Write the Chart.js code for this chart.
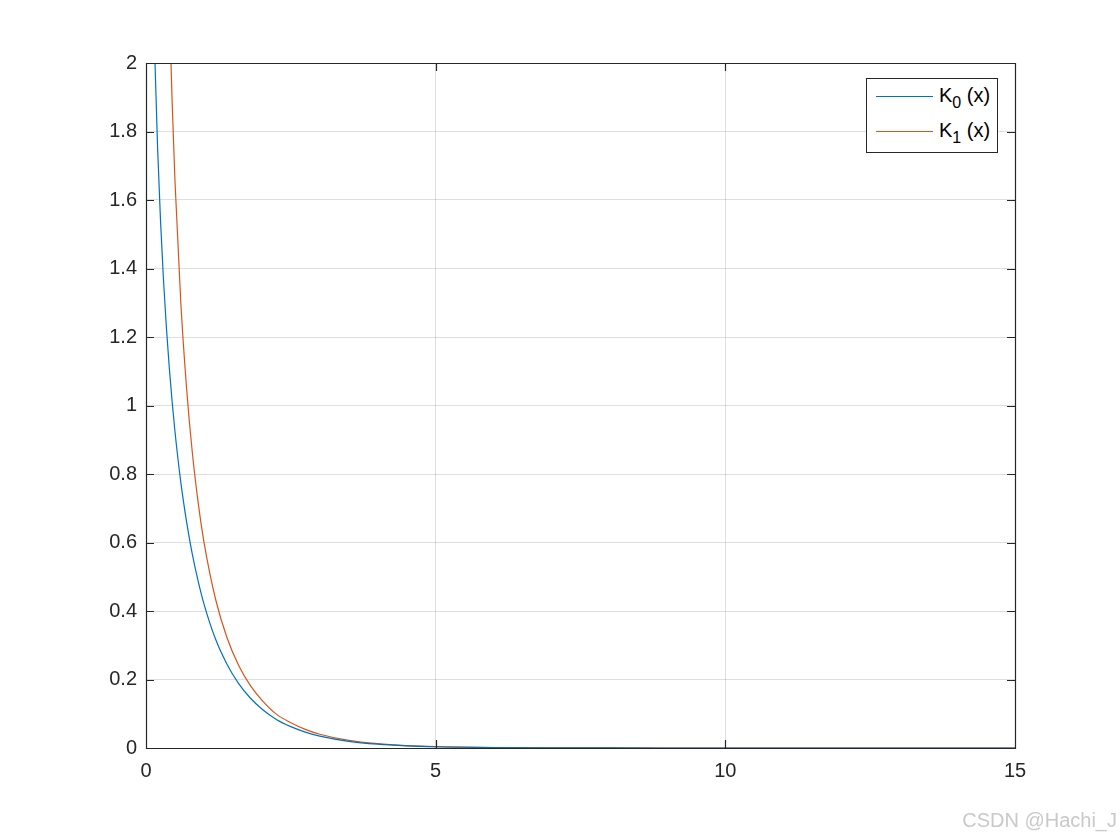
<!DOCTYPE html>
<html>
<head>
<meta charset="utf-8">
<script src="https://cdn.jsdelivr.net/npm/chart.js@4.4.1/dist/chart.umd.min.js"></script>
<style>
  body { margin: 0; background: #fff; }
  #wrap { position: relative; width: 1120px; height: 840px; }
  #legend {
    position: absolute; left: 866px; top: 78px; width: 132px; height: 75px;
    border: 1px solid #262626; background: #fff; box-sizing: border-box;
    font-family: "Liberation Sans", Arial, sans-serif; font-size: 20px; color: #000;
  }
  .row { position: absolute; left: 0; height: 24px; width: 100%; }
  .row .ln { position: absolute; left: 9px; top: 13px; width: 57px; height: 1px; }
  .row .tx { position: absolute; left: 72px; top: 0; line-height: 24px; white-space: nowrap; }
  .row sub { font-size: 16px; vertical-align: -6px; line-height: 0; }
  #mark {
    position: absolute; right: 3px; top: 809px;
    font-family: "Liberation Sans", Arial, sans-serif; font-size: 20px; color: #c9c9c9;
  }
</style>
</head>
<body>
<div id="wrap">
  <canvas id="c" width="1120" height="840"></canvas>
  <div id="legend">
    <div class="row" style="top:4px"><div class="ln" style="background:#0072BD"></div><div class="tx">K<sub>0</sub> (x)</div></div>
    <div class="row" style="top:39px"><div class="ln" style="background:#D95319"></div><div class="tx">K<sub>1</sub> (x)</div></div>
  </div>
  <div id="mark">CSDN @Hachi_J</div>
</div>
<script>
const xs = [0.05, 0.1, 0.15, 0.2, 0.25, 0.3, 0.35, 0.4, 0.45, 0.5, 0.6, 0.7, 0.8, 0.9, 1.0,
  1.2, 1.4, 1.6, 1.8, 2.0, 2.25, 2.5, 2.75, 3.0, 3.5, 4.0, 4.5, 5, 6, 7, 8, 10, 12, 15];
const k0 = [3.114, 2.427, 2.030, 1.753, 1.542, 1.372, 1.233, 1.115, 1.013, 0.924, 0.777, 0.661, 0.565, 0.487, 0.421,
  0.318, 0.244, 0.188, 0.146, 0.114, 0.0834, 0.0623, 0.0464, 0.0347, 0.0196, 0.0112, 0.0064, 0.0037, 0.0012, 0.0004, 0.00015, 0.00002, 0.000002, 0.0000001];
const k1 = [19.91, 9.854, 6.477, 4.776, 3.747, 3.056, 2.559, 2.184, 1.892, 1.656, 1.303, 1.051, 0.862, 0.717, 0.602,
  0.435, 0.321, 0.241, 0.183, 0.140, 0.0989, 0.0739, 0.0544, 0.0402, 0.0222, 0.0125, 0.0071, 0.0040, 0.0013, 0.00045, 0.00016, 0.00002, 0.0000024, 0.0000001];
const seriesNames = ['K0 (x)', 'K1 (x)'];
const xTicks = [0, 5, 10, 15];
const yTicks = [0, 0.2, 0.4, 0.6, 0.8, 1, 1.2, 1.4, 1.6, 1.8, 2];

const axisColor = '#262626';
const font = { family: '"Liberation Sans", Arial, sans-serif', size: 20 };

// MATLAB-like box with inward ticks on all four sides
const boxPlugin = {
  id: 'box',
  afterDatasetsDraw(chart) {
    const { ctx, chartArea: a, scales } = chart;
    ctx.save();
    ctx.strokeStyle = axisColor;
    ctx.lineWidth = 1.2;
    ctx.beginPath();
    ctx.rect(a.left + 0.5, a.top + 0.5, a.right - a.left, a.bottom - a.top);
    const len = 8;
    xTicks.forEach(v => {
      const px = Math.round(scales.x.getPixelForValue(v)) + 0.5;
      ctx.moveTo(px, a.bottom); ctx.lineTo(px, a.bottom - len);
      ctx.moveTo(px, a.top); ctx.lineTo(px, a.top + len);
    });
    yTicks.forEach(v => {
      const py = Math.round(scales.y.getPixelForValue(v)) + 0.5;
      ctx.moveTo(a.left, py); ctx.lineTo(a.left + len, py);
      ctx.moveTo(a.right, py); ctx.lineTo(a.right - len, py);
    });
    ctx.stroke();
    ctx.restore();
  }
};

const mk = ys => xs.map((x, i) => ({ x, y: ys[i] }));

new Chart(document.getElementById('c'), {
  type: 'scatter',
  data: {
    datasets: [
      { label: seriesNames[0], data: mk(k0), borderColor: '#0072BD', showLine: true, pointRadius: 0, borderWidth: 1.2, cubicInterpolationMode: 'monotone' },
      { label: seriesNames[1], data: mk(k1), borderColor: '#D95319', showLine: true, pointRadius: 0, borderWidth: 1.2, cubicInterpolationMode: 'monotone' }
    ]
  },
  options: {
    responsive: false,
    animation: false,
    layout: { padding: { left: 0, top: 63, right: 105, bottom: 0 } },
    plugins: { legend: { display: false }, tooltip: { enabled: false } },
    scales: {
      x: {
        type: 'linear', min: 0, max: 15,
        afterBuildTicks: s => { s.ticks = xTicks.map(v => ({ value: v })); },
        afterFit: s => { s.height = 92; },
        grid: { color: 'rgba(0,0,0,0.13)', drawTicks: false },
        border: { display: false },
        ticks: { font, color: axisColor, padding: 11, maxRotation: 0 }
      },
      y: {
        type: 'linear', min: 0, max: 2,
        afterBuildTicks: s => { s.ticks = yTicks.map(v => ({ value: v })); },
        afterFit: s => { s.width = 146; },
        grid: { color: 'rgba(0,0,0,0.13)', drawTicks: false },
        border: { display: false },
        ticks: { font, color: axisColor, padding: 9, callback: v => String(Number(v.toFixed(1))) }
      }
    }
  },
  plugins: [boxPlugin]
});
</script>
</body>
</html>
